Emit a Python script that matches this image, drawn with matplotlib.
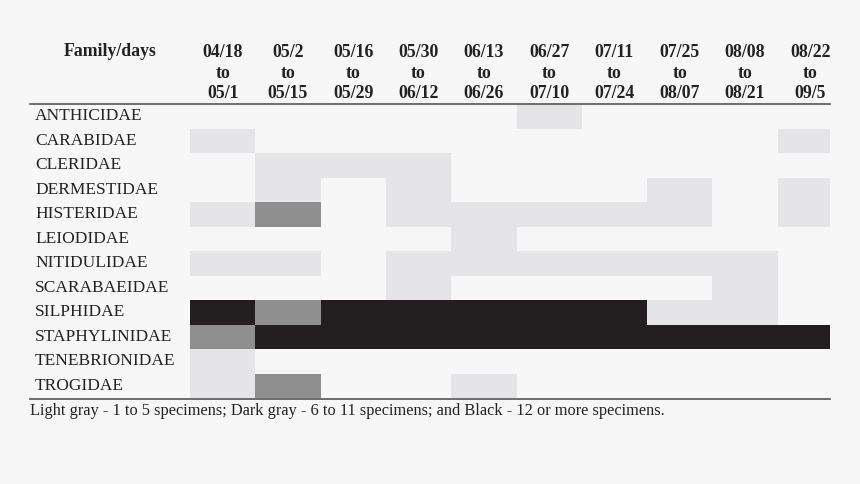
import numpy as np
import matplotlib.pyplot as plt
from matplotlib.colors import ListedColormap
from matplotlib.lines import Line2D
from matplotlib.transforms import blended_transform_factory

# Families (rows) and two-week periods (columns)
families = ["ANTHICIDAE", "CARABIDAE", "CLERIDAE", "DERMESTIDAE", "HISTERIDAE",
            "LEIODIDAE", "NITIDULIDAE", "SCARABAEIDAE", "SILPHIDAE",
            "STAPHYLINIDAE", "TENEBRIONIDAE", "TROGIDAE"]
period_start = ["04/18", "05/2", "05/16", "05/30", "06/13", "06/27", "07/11", "07/25", "08/08", "08/22"]
period_end = ["05/1", "05/15", "05/29", "06/12", "06/26", "07/10", "07/24", "08/07", "08/21", "09/5"]

# 0 = none, 1 = light gray (1-5), 2 = dark gray (6-11), 3 = black (12+)
levels = [
    [0, 0, 0, 0, 0, 1, 0, 0, 0, 0],
    [1, 0, 0, 0, 0, 0, 0, 0, 0, 1],
    [0, 1, 1, 1, 0, 0, 0, 0, 0, 0],
    [0, 1, 0, 1, 0, 0, 0, 1, 0, 1],
    [1, 2, 0, 1, 1, 1, 1, 1, 0, 1],
    [0, 0, 0, 0, 1, 0, 0, 0, 0, 0],
    [1, 1, 0, 1, 1, 1, 1, 1, 1, 0],
    [0, 0, 0, 1, 0, 0, 0, 0, 1, 0],
    [3, 2, 3, 3, 3, 3, 3, 1, 1, 0],
    [2, 3, 3, 3, 3, 3, 3, 3, 3, 3],
    [1, 0, 0, 0, 0, 0, 0, 0, 0, 0],
    [1, 2, 0, 0, 1, 0, 0, 0, 0, 0],
]
footnote = "Light gray - 1 to 5 specimens; Dark gray - 6 to 11 specimens; and Black - 12 or more specimens."

bg = "#f7f7f7"
cmap = ListedColormap([bg, "#e5e5e7", "#8f8f8f", "#231f20"])
plt.rcParams["font.family"] = ["Liberation Serif", "DejaVu Serif"]

W, H = 860, 484
fig = plt.figure(figsize=(W / 100, H / 100), dpi=100, facecolor=bg)
left, right, top, bottom = 190, 830, 104, 398
ax = fig.add_axes([left / W, 1 - bottom / H, (right - left) / W, (bottom - top) / H])
ax.set_facecolor(bg)

data = np.array(levels)
ax.pcolormesh(np.arange(data.shape[1] + 1), np.arange(data.shape[0] + 1), data,
              cmap=cmap, vmin=-0.5, vmax=3.5)
ax.set_xlim(0, 9.8)
ax.set_ylim(len(families), 0)
ax.axis("off")

# row labels
row_tr = blended_transform_factory(fig.transFigure, ax.transData)
for i, name in enumerate(families):
    ax.text(35 / W, i + 0.5, name, transform=row_tr,
            ha="left", va="center", fontsize=12.5, color="#222222")

# column headers
for j, (s, e) in enumerate(zip(period_start, period_end)):
    ax.text(j + 0.5, (bottom - 73) / (bottom - top), s + "\nto\n" + e,
            transform=ax.get_xaxis_transform(), ha="center", va="center",
            fontsize=12.8, fontweight="bold", linespacing=1.25, color="#222222")
fig.text(110 / W, 1 - 52 / H, "Family/days", ha="center", va="center",
         fontsize=12.8, fontweight="bold", color="#222222")

# rules
for y in (top - 0.5, bottom + 0.5):
    fig.add_artist(Line2D([30 / W, right / W], [1 - y / H, 1 - y / H],
                          color="#555555", lw=1.2))

fig.text(30 / W, 1 - 411 / H, footnote, ha="left", va="center", fontsize=11.8, color="#222222")

fig.savefig("out.png", dpi=100, facecolor=bg)
